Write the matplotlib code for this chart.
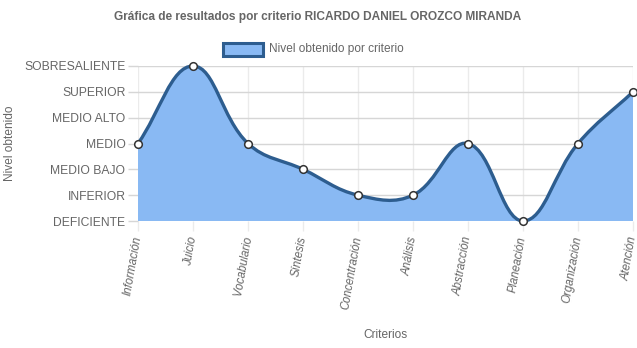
import numpy as np
import matplotlib.pyplot as plt
from matplotlib.path import Path
from matplotlib.patches import PathPatch, Rectangle

plt.rcParams['font.family'] = ['Liberation Sans', 'DejaVu Sans']

# data
criterios = ['Información', 'Juicio', 'Vocabulario', 'Síntesis', 'Concentración',
             'Análisis', 'Abstracción', 'Planeación', 'Organización', 'Atención']
niveles = ['DEFICIENTE', 'INFERIOR', 'MEDIO BAJO', 'MEDIO', 'MEDIO ALTO',
           'SUPERIOR', 'SOBRESALIENTE']
valores = [3, 6, 3, 2, 1, 1, 3, 0, 3, 5]

fill_col = '#89b9f3'
line_col = '#2d5d8f'
text_col = '#666666'
hgrid_col = '#d6d6d6'
vgrid_col = '#ebebeb'

W, H = 637, 348
fig = plt.figure(figsize=(W / 100, H / 100), dpi=100)
x0, x1, ytop, ybot = 138, 633, 66, 221
ax = fig.add_axes([x0 / W, 1 - ybot / H, (x1 - x0) / W, (ybot - ytop) / H])

xs = np.arange(len(criterios), dtype=float)
ys = np.array(valores, dtype=float)

# bezier control points like chart.js (tension 0.4), computed in pixel space
sx = (x1 - x0) / (len(criterios) - 1)
sy = (ybot - ytop) / (len(niveles) - 1)
t = 0.4
pts = np.column_stack([xs * sx, ys * sy])
cps = []
for i in range(len(pts)):
    p = pts[i]
    prev = pts[i - 1] if i > 0 else p
    nxt = pts[i + 1] if i < len(pts) - 1 else p
    d01 = np.hypot(*(p - prev))
    d12 = np.hypot(*(nxt - p))
    tot = d01 + d12
    s01 = d01 / tot if tot else 0
    s12 = d12 / tot if tot else 0
    c1 = p - t * s01 * (nxt - prev)
    c2 = p + t * s12 * (nxt - prev)
    c1[1] = np.clip(c1[1], 0, 6 * sy)
    c2[1] = np.clip(c2[1], 0, 6 * sy)
    cps.append((c1 / [sx, sy], c2 / [sx, sy]))

verts = [(xs[0], ys[0])]
codes = [Path.MOVETO]
for i in range(len(xs) - 1):
    verts += [tuple(cps[i][1]), tuple(cps[i + 1][0]), (xs[i + 1], ys[i + 1])]
    codes += [Path.CURVE4] * 3

line_path = Path(verts, codes)
fill_path = Path(verts + [(xs[-1], 0), (xs[0], 0), (xs[0], ys[0])],
                 codes + [Path.LINETO, Path.LINETO, Path.CLOSEPOLY])
ax.add_patch(PathPatch(fill_path, facecolor=fill_col, edgecolor='none', zorder=2))
ax.add_patch(PathPatch(line_path, facecolor='none', edgecolor=line_col, lw=2.4,
                       zorder=3, clip_on=False))
ax.plot(xs, ys, 'o', ms=5.5, mfc='white', mec='#333333', mew=1.1, zorder=4,
        clip_on=False)

ax.set_xlim(0, len(criterios) - 1)
ax.set_ylim(0, len(niveles) - 1)
ax.set_yticks(range(len(niveles)))
ax.set_yticklabels(niveles, fontsize=8.7, color=text_col)
ax.set_xticks(xs)
ax.set_xticklabels(criterios, fontsize=8.3, color=text_col, rotation=80,
                   ha='right', va='center', rotation_mode='anchor', style='italic')
ax.tick_params(axis='y', length=7, color=hgrid_col, width=1, pad=2)
ax.tick_params(axis='x', length=7, color=vgrid_col, width=1, pad=4)
ax.yaxis.grid(True, color=hgrid_col, lw=1)
ax.xaxis.grid(True, color=vgrid_col, lw=1)
ax.set_axisbelow(True)
for s in ax.spines.values():
    s.set_visible(False)

fig.text(385 / W, 1 - 335 / H, 'Criterios', ha='center', va='center',
         fontsize=8.6, color=text_col)
fig.text(10 / W, 1 - 143 / H, 'Nivel obtenido', ha='center', va='center',
         rotation=90, fontsize=8.6, color=text_col)
fig.text(318 / W, 1 - 17 / H, 'Gráfica de resultados por criterio RICARDO DANIEL OROZCO MIRANDA',
         ha='center', va='center', fontsize=8.6, fontweight='bold', color=text_col)

# legend
fig.patches.append(Rectangle((223 / W, 1 - 56 / H), 40 / W, 13 / H,
                             transform=fig.transFigure, facecolor=fill_col,
                             edgecolor=line_col, lw=2.2))
fig.text(269 / W, 1 - 49 / H, 'Nivel obtenido por criterio', ha='left',
         va='center', fontsize=8.6, color=text_col)

fig.savefig('out.png', dpi=100)
